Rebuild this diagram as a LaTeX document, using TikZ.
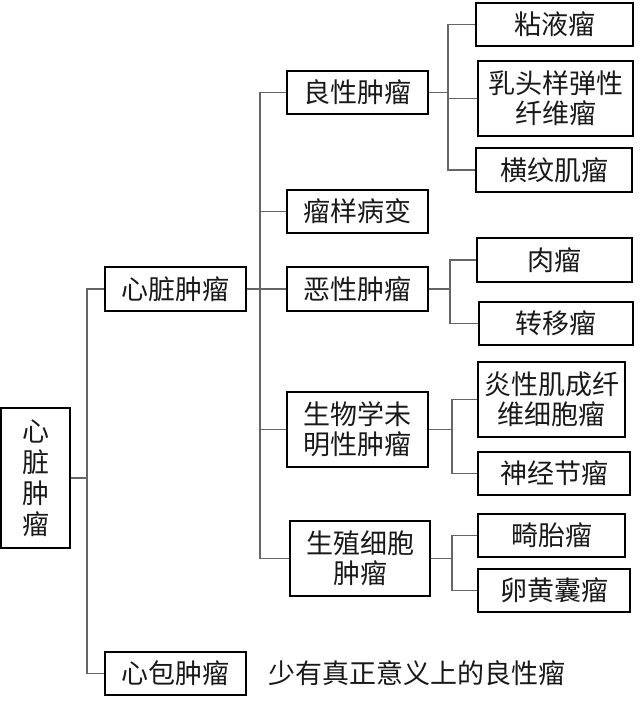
\documentclass[tikz,border=0pt]{standalone}
\usepackage{fontspec}
\setmainfont{Noto Sans CJK SC}
\begin{document}
\begin{tikzpicture}[x=1pt,y=-1pt,
  box/.style={draw=black,line width=1.5pt,inner sep=0pt,align=center,
    font=\fontsize{27}{30}\selectfont,text=black!90},
  conn/.style={draw=black!60,line width=1.2pt}]
\useasboundingbox (0,0) rectangle (640,706);
% nodes
\node[box,minimum width=69pt,minimum height=140pt] (root) at (35.5,478) {心\\[1pt]脏\\[1pt]肿\\[1pt]瘤};
\node[box,minimum width=141pt,minimum height=44pt] (xz) at (175.5,289) {心脏肿瘤};
\node[box,minimum width=141pt,minimum height=43pt] (xb) at (175.5,673.5) {心包肿瘤};
\node[font=\fontsize{27}{30}\selectfont,text=black!90] (note) at (416.5,673) {少有真正意义上的良性瘤};
\node[box,minimum width=141pt,minimum height=43pt] (lx) at (357.5,92.5) {良性肿瘤};
\node[box,minimum width=141pt,minimum height=43pt] (ly) at (357.5,211.5) {瘤样病变};
\node[box,minimum width=141pt,minimum height=44pt] (ex) at (357.5,289) {恶性肿瘤};
\node[box,minimum width=141pt,minimum height=75pt] (sw) at (357.5,429.5) {生物学未\\明性肿瘤};
\node[box,minimum width=140pt,minimum height=75pt] (sz) at (360,558.5) {生殖细胞\\肿瘤};
\node[box,minimum width=157pt,minimum height=43pt] (nyl) at (554.5,24.5) {粘液瘤};
\node[box,minimum width=155pt,minimum height=75pt] (rt) at (555.5,98.5) {乳头样弹性\\纤维瘤};
\node[box,minimum width=156pt,minimum height=44pt] (hw) at (554,170) {横纹肌瘤};
\node[box,minimum width=155pt,minimum height=44pt] (rl) at (554.5,260) {肉瘤};
\node[box,minimum width=154pt,minimum height=43pt] (zy) at (556,323.5) {转移瘤};
\node[box,minimum width=147pt,minimum height=75pt] (yx) at (551.5,399.5) {炎性肌成纤\\维细胞瘤};
\node[box,minimum width=152pt,minimum height=43pt] (sj) at (554,473.5) {神经节瘤};
\node[box,minimum width=147pt,minimum height=43pt] (jt) at (551.5,535.5) {畸胎瘤};
\node[box,minimum width=152pt,minimum height=43pt] (lh) at (554,590.5) {卵黄囊瘤};
% trunk coordinates
\coordinate (t0) at (87,0);
\coordinate (t1) at (260,0);
\coordinate (t2) at (448,0);
\coordinate (t3) at (450,0);
\coordinate (t4) at (452,0);
% connectors
\foreach \c in {xz,xb} \draw[conn] (root.east) -- (root.east -| t0) |- (\c.west);
\foreach \c in {lx,ly,ex,sw,sz} \draw[conn] (xz.east) -- (xz.east -| t1) |- (\c.west);
\foreach \c in {nyl,rt,hw} \draw[conn] (lx.east) -- (lx.east -| t2) |- (\c.west);
\foreach \c in {rl,zy} \draw[conn] (ex.east) -- (ex.east -| t3) |- (\c.west);
\foreach \c in {yx,sj} \draw[conn] (sw.east) -- (sw.east -| t4) |- (\c.west);
\foreach \c in {jt,lh} \draw[conn] (sz.east) -- (sz.east -| t4) |- (\c.west);
\end{tikzpicture}
\end{document}
